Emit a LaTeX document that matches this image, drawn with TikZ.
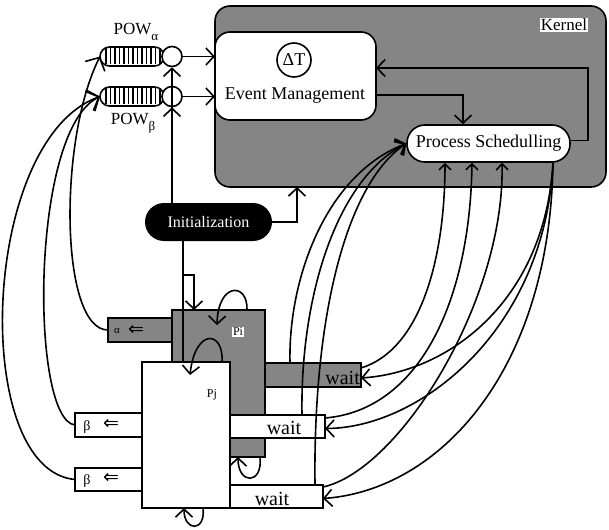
\documentclass[tikz,border=0pt]{standalone}
\usepackage{fontspec}
\setmainfont{Liberation Serif}
\newfontfamily\djv{DejaVu Sans}
\usetikzlibrary{arrows.meta}
\begin{document}
\begin{tikzpicture}[x=1pt,y=-1pt,
  ln/.style={line width=1.6pt},
  arr/.style={ln,-{Straight Barb[length=8pt,width=17pt]}},
  barr/.style={ln,-{Straight Barb[length=10pt,width=22pt]}},
  sarr/.style={ln,-{Straight Barb[length=6pt,width=12pt]}},
  box/.style={draw,line width=1.6pt,anchor=north west,inner sep=0pt,outer sep=0pt},
  grayfill/.style={fill=black!48},
  fs/.style={font=\fontsize{#1}{#1}\selectfont},
  hatch/.style={line width=1.1pt}]
\useasboundingbox (0,0) rectangle (609,529);

% Kernel
\node[box,grayfill,rounded corners=15pt,minimum width=391pt,minimum height=181pt] (kernel) at (215,6) {};
\node[fill=white,fs=17,inner sep=1pt] (klabel) at (564,25) {Kernel};
\node[box,fill=white,rounded corners=15pt,minimum width=161pt,minimum height=88pt] (em) at (215,32) {};
\node[draw,circle,ln,minimum size=34pt,inner sep=0pt,fs=18] (dt) at (294,60) {ΔT};
\node[fs=18] (emlabel) at (295,96) {Event Management};
\node[draw,ln,fill=white,rounded corners=18pt,minimum width=163pt,minimum height=37pt,inner sep=0pt,fs=18] (ps) at (488.5,143.5) {Process Schedulling};
\draw[arr] ([yshift=-19pt]em.east) -| ([xshift=-25.5pt]ps.north);
\draw[arr] ([yshift=3pt]ps.east) -- ++(17,0) |- ([yshift=8pt]em.east);

% POW queues
\node[box,fill=white,rounded corners=9.5pt,minimum width=64pt,minimum height=19pt] (ca) at (100,47) {};
\foreach \x in {106,110.5,...,160} \draw[hatch] (\x,48.5) -- (\x,64.5);
\node[draw,circle,ln,fill=white,minimum size=20pt,inner sep=0pt] (pa) at (172,56.5) {};
\node[box,fill=white,rounded corners=9.5pt,minimum width=64pt,minimum height=19pt] (cb) at (100,87) {};
\foreach \x in {106,110.5,...,160} \draw[hatch] (\x,88.5) -- (\x,104.5);
\node[draw,circle,ln,fill=white,minimum size=20pt,inner sep=0pt] (pb) at (172,96.5) {};
\node[fs=17] (powa) at (136,32) {POW\raisebox{-6pt}{\fontsize{13}{13}\selectfont α}};
\node[fs=17] (powb) at (133,123) {POW\raisebox{-6pt}{\fontsize{13}{13}\selectfont β}};
\draw[arr] (pa.east) -- (pa.east -| em.west);
\draw[arr] (pb.east) -- (pb.east -| em.west);

% Initialization
\node[fill=black,rounded corners=19pt,minimum width=127pt,minimum height=38pt,inner sep=0pt,text=white,fs=16] (init) at (208.5,222) {Initialization};
\draw[arr] (init.north -| pa.south) -- (pa.south);
\draw[arr] (init.north -| pb.south) -- (pb.south);
\draw[arr] (init.east) -| ([xshift=82pt]kernel.south west);

% Processes
\node[box,grayfill,minimum width=93pt,minimum height=147pt] (pi) at (172,310) {};
\node[box,grayfill,minimum width=64pt,minimum height=24pt] (qa) at (108,318) {};
\node[fs=11] (qat) at (117,331) {α};
\node[font=\djv\fontsize{19}{19}\selectfont] (qaa) at (136,330) {⇐};
\node[box,grayfill,minimum width=96pt,minimum height=24pt] (wi) at (265,363) {};
\node[fs=20,anchor=east,inner sep=0pt] (wit) at (360,378) {wait};
\node[fill=white,fs=12,inner sep=1pt] (pil) at (238,332) {Pi};
\node[box,fill=white,minimum width=88pt,minimum height=146pt] (pj) at (142,362) {};
\node[fs=12] (pjl) at (212,395) {Pj};
\node[box,fill=white,minimum width=67pt,minimum height=24pt] (qb1) at (75,413) {};
\node[fs=14] (qb1t) at (87,427) {β};
\node[font=\djv\fontsize{19}{19}\selectfont] (qb1a) at (111,424) {⇐};
\node[box,fill=white,minimum width=67pt,minimum height=23pt] (qb2) at (75,468) {};
\node[fs=14] (qb2t) at (87,481) {β};
\node[font=\djv\fontsize{19}{19}\selectfont] (qb2a) at (111,478) {⇐};
\node[box,fill=white,minimum width=95pt,minimum height=23pt] (w1) at (230,415) {};
\node[fs=20] (w1t) at (284,428) {wait};
\node[box,fill=white,minimum width=93pt,minimum height=23pt] (w2) at (230,485) {};
\node[fs=20] (w2t) at (272,499) {wait};

% Init to processes
\draw[ln] ([xshift=-25.5pt]init.south) -- ([xshift=-3pt]pj.north);
\draw[arr] ([xshift=-25.5pt,yshift=-34pt]init.south) -| ([xshift=22pt]pi.north west);

% self loops
\draw[arr] ([xshift=75pt]pi.north west) .. controls (248,282) and (218,282) .. ([xshift=45pt,yshift=-15pt]pi.north west);
\draw[arr] ([xshift=80pt]pj.north west) .. controls (224,330) and (195,328) .. ([xshift=48pt,yshift=-13pt]pj.north west);
\draw[arr] ([xshift=-5pt]pi.south east) .. controls (263,485) and (238,485) .. ([xshift=-27pt]pi.south east);
\draw[arr] ([xshift=-27pt]pj.south east) .. controls (206,532) and (184,532) .. ([xshift=-46pt]pj.south east);

% left curves to POW
\draw[barr] (qa.west) .. controls (60,330) and (58,140) .. (ca.west);
\draw[barr] (qb1.west) .. controls (30,420) and (30,130) .. (cb.west);
\draw[barr] (qb2.west) .. controls (-30,470) and (-20,140) .. (cb.west);

% wait tops to scheduler
\draw[arr] ([xshift=25pt]wi.north west) .. controls (288,280) and (325,175) .. (ps.west);
\draw[arr] ([xshift=72pt]w1.north west) .. controls (300,300) and (335,180) .. (ps.west);
\draw[arr] ([xshift=85pt]w2.north west) .. controls (313,320) and (345,185) .. (ps.west);

% wait right corners to scheduler bottom
\draw[sarr] ([yshift=-5pt]wi.north east) .. controls (420,350) and (445,260) .. ([xshift=-43.5pt]ps.south);
\draw[sarr] ([yshift=-3pt]w1.north east) .. controls (420,410) and (470,300) .. ([xshift=-16.5pt]ps.south);
\draw[sarr] ([yshift=-2pt]w2.north east) .. controls (400,470) and (505,300) .. ([xshift=13.5pt]ps.south);

% scheduler to waits
\draw[arr] ([xshift=64.5pt]ps.south) .. controls (545,300) and (450,372) .. ([yshift=-3pt]wi.east);
\draw[arr] ([xshift=64.5pt]ps.south) .. controls (545,330) and (420,428) .. ([yshift=-2pt]w1.east);
\draw[arr] ([xshift=64.5pt]ps.south) .. controls (550,370) and (440,490) .. ([yshift=-2pt]w2.east);
\end{tikzpicture}
\end{document}
